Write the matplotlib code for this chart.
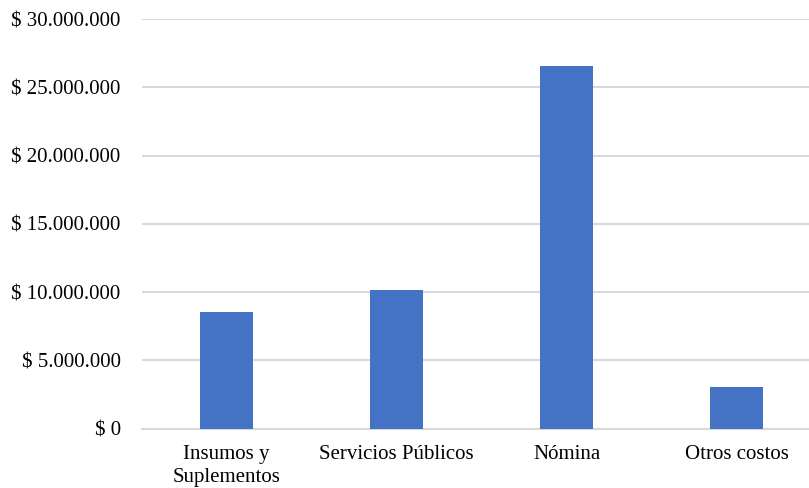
import matplotlib.pyplot as plt
from matplotlib.ticker import FuncFormatter

# Datos del gráfico de costos
categorias = ["Insumos y\nSuplementos", "Servicios Públicos", "Nómina", "Otros costos"]
valores = [8570000, 10160000, 26560000, 3080000]
ticks_y = [0, 5000000, 10000000, 15000000, 20000000, 25000000, 30000000]

plt.rcParams["font.family"] = ["Liberation Serif", "DejaVu Serif"]

W, H = 809, 488
fig = plt.figure(figsize=(W / 100, H / 100), dpi=100)
# el área del gráfico sobresale un poco por la derecha, como en el original
ax = fig.add_axes([141.5 / W, 59.3 / H, 680 / W, 409.7 / H])

x = list(range(len(categorias)))
ax.bar(x, valores, width=0.31, color="#4472C4", zorder=3)

ax.set_xlim(-0.5, 3.5)
ax.set_ylim(0, 30000000)
ax.set_yticks(ticks_y)
ax.yaxis.set_major_formatter(FuncFormatter(lambda v, p: "$ " + f"{int(v):,}".replace(",", ".")))
ax.set_xticks(x)
ax.set_xticklabels(categorias, linespacing=1.25)

ax.grid(axis="y", color="#D9D9D9", linewidth=1.5, zorder=0)
ax.tick_params(axis="both", length=0, labelsize=15, colors="black")
ax.tick_params(axis="y", pad=15)
ax.tick_params(axis="x", pad=12)

for s in ["top", "right", "left"]:
    ax.spines[s].set_visible(False)
ax.spines["bottom"].set_color("#D9D9D9")
ax.spines["bottom"].set_linewidth(1.5)

fig.savefig("out.png", dpi=100)
